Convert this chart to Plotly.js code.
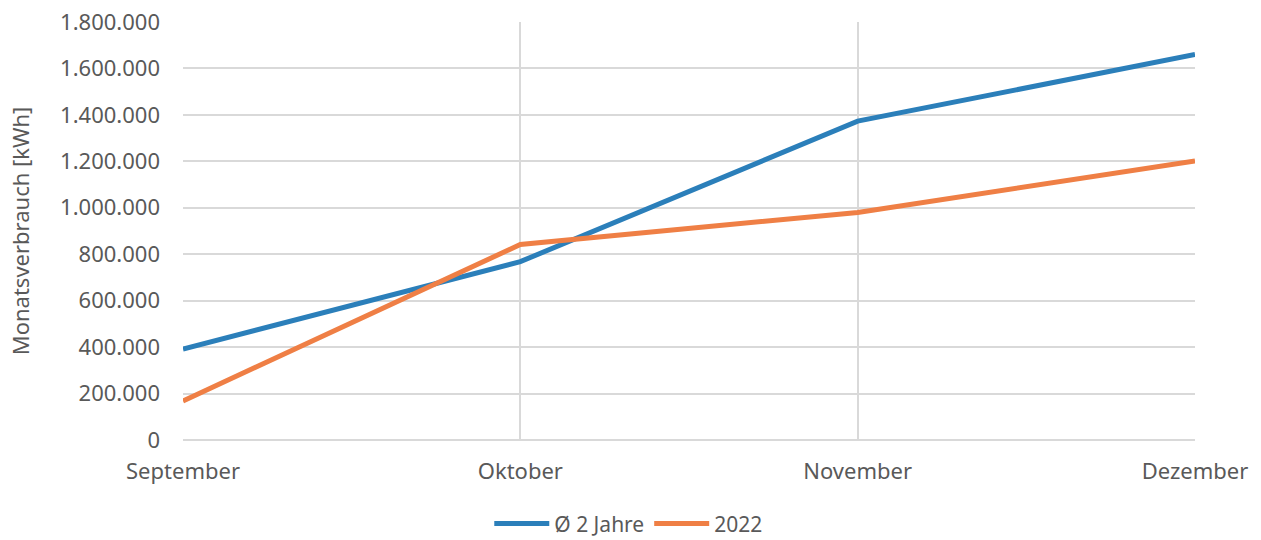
<!DOCTYPE html>
<html>
<head>
<meta charset="utf-8">
<script src="https://cdn.plot.ly/plotly-3.0.1.min.js"></script>
<style>html,body{margin:0;padding:0;background:#fff;}#chart{width:1261px;height:540px;}</style>
</head>
<body>
<div id="chart"></div>
<script>
var months = ["September", "Oktober", "November", "Dezember"];
var avg2Jahre = [392000, 768000, 1373000, 1660000];
var werte2022 = [168000, 842000, 980000, 1202000];
var seriesNames = ["Ø 2 Jahre", "2022"];
var yTicks = [0, 200000, 400000, 600000, 800000, 1000000, 1200000, 1400000, 1600000, 1800000];

var fontFam = "'Noto Sans', 'Open Sans', sans-serif";
var textCol = "#595959";

var traces = [
  {x: months, y: avg2Jahre, name: seriesNames[0], type: "scatter", mode: "lines",
   line: {color: "#2b7fba", width: 5}},
  {x: months, y: werte2022, name: seriesNames[1], type: "scatter", mode: "lines",
   line: {color: "#ef7f45", width: 5}}
];

var layout = {
  width: 1261, height: 540,
  separators: ",.",
  margin: {l: 183, r: 66, t: 22, b: 100},
  paper_bgcolor: "#fff", plot_bgcolor: "#fff",
  font: {family: fontFam, size: 22, color: textCol},
  showlegend: true,
  legend: {orientation: "h", x: 0.44, xanchor: "center", xref: "paper",
           yref: "container", y: 0.03, yanchor: "middle",
           font: {size: 21, color: textCol}, itemwidth: 55, traceorder: "normal"},
  xaxis: {type: "category", range: [0, 3], showgrid: true, gridcolor: "#d9d9d9", gridwidth: 2,
          zeroline: false, showline: false, ticks: "", ticklabelstandoff: 16,
          tickfont: {size: 22, color: textCol}, automargin: false, fixedrange: true},
  yaxis: {range: [0, 1800000], tickvals: yTicks, tickformat: ",d", showgrid: true,
          gridcolor: "#d9d9d9", gridwidth: 2, zeroline: true, zerolinecolor: "#d9d9d9", zerolinewidth: 2,
          showline: false, ticks: "", ticklabelstandoff: 22,
          tickfont: {size: 22, color: textCol}, automargin: false,
          title: {text: "Monatsverbrauch [kWh]", font: {size: 22, color: textCol}, standoff: 24},
          fixedrange: true}
};

Plotly.newPlot("chart", traces, layout, {displayModeBar: false, staticPlot: true});
</script>
</body>
</html>
